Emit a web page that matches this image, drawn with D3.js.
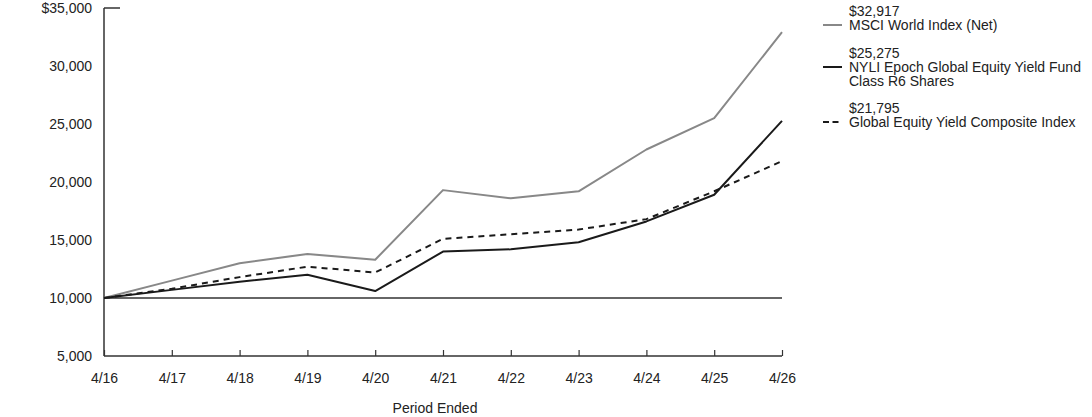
<!DOCTYPE html>
<html>
<head>
<meta charset="utf-8">
<script src="https://cdn.jsdelivr.net/npm/d3@7"></script>
<style>
  body { margin: 0; background: #fff; }
  svg text { font-family: "Liberation Sans", Arial, sans-serif; fill: #222; }
</style>
</head>
<body>
<svg width="1092" height="417"></svg>
<script>
// periods along the x axis
var periods = ["4/16", "4/17", "4/18", "4/19", "4/20", "4/21", "4/22", "4/23", "4/24", "4/25", "4/26"];
var yTicks = [5000, 10000, 15000, 20000, 25000, 30000, 35000];

// growth of $10,000
var msciWorld = [10000, 11500, 13000, 13800, 13300, 19300, 18600, 19200, 22800, 25500, 32917];
var fundR6    = [10000, 10700, 11400, 12000, 10600, 14000, 14200, 14800, 16600, 18900, 25275];
var composite = [10000, 10800, 11800, 12700, 12200, 15100, 15500, 15900, 16800, 19200, 21795];

var seriesNames = ["MSCI World Index (Net)", "NYLI Epoch Global Equity Yield Fund Class R6 Shares", "Global Equity Yield Composite Index"];
var endLabels = ["$32,917", "$25,275", "$21,795"];

var svg = d3.select("svg"),
    mLeft = 104, mRight = 782, mTop = 8, mBottom = 356;

var x = d3.scalePoint().domain(periods).range([mLeft, mRight]);
var y = d3.scaleLinear().domain([5000, 35000]).range([mBottom, mTop]);

var line = d3.line()
    .x(function(d, i) { return x(periods[i]); })
    .y(function(d) { return y(d); });

// y axis: labels only, plain vertical rule
var yAxis = svg.append("g")
    .attr("transform", "translate(" + mLeft + ",0)")
    .call(d3.axisLeft(y).tickValues(yTicks).tickSize(0).tickPadding(12)
        .tickFormat(function(d) { return d === 35000 ? "$35,000" : d3.format(",")(d); }));
yAxis.select(".domain").remove();
yAxis.selectAll("text").style("font-size", "14px").style("fill", "#222");

svg.append("line")
    .attr("x1", mLeft).attr("x2", mLeft)
    .attr("y1", y(35000)).attr("y2", y(5000))
    .attr("stroke", "#333").attr("stroke-width", 1.5);
svg.append("line")
    .attr("x1", mLeft).attr("x2", mLeft + 16)
    .attr("y1", y(35000)).attr("y2", y(35000))
    .attr("stroke", "#333").attr("stroke-width", 1.5);

// x axis with inward ticks
var xAxis = svg.append("g")
    .attr("transform", "translate(0," + mBottom + ")")
    .call(d3.axisBottom(x).tickSize(-6).tickPadding(17));
xAxis.select(".domain").attr("stroke", "#333").attr("stroke-width", 1.5)
    .attr("d", "M" + mLeft + ",0H" + mRight);
xAxis.selectAll(".tick line").attr("stroke", "#333").attr("stroke-width", 1.2);
xAxis.selectAll("text").style("font-size", "14px").style("fill", "#222");

svg.append("text")
    .attr("x", 435).attr("y", 413)
    .attr("text-anchor", "middle")
    .style("font-size", "14px")
    .text("Period Ended");

// $10,000 baseline
svg.append("line")
    .attr("x1", mLeft).attr("x2", mRight)
    .attr("y1", y(10000)).attr("y2", y(10000))
    .attr("stroke", "#333").attr("stroke-width", 1.5);

var series = [
    { values: msciWorld, color: "#888", dash: null },
    { values: fundR6,    color: "#1a1a1a", dash: null },
    { values: composite, color: "#1a1a1a", dash: "6,5" }
];

svg.selectAll("path.series")
    .data(series)
    .enter().append("path")
    .attr("class", "series")
    .attr("d", function(d) { return line(d.values); })
    .attr("fill", "none")
    .attr("stroke", function(d) { return d.color; })
    .attr("stroke-width", 2)
    .attr("stroke-dasharray", function(d) { return d.dash; })
    .attr("stroke-linejoin", "round");

// legend
var legendRows = [
    { lines: [seriesNames[0]], y0: 16, s: series[0], label: endLabels[0] },
    { lines: ["NYLI Epoch Global Equity Yield Fund", "Class R6 Shares"], y0: 58, s: series[1], label: endLabels[1] },
    { lines: [seriesNames[2]], y0: 113, s: series[2], label: endLabels[2] }
];

var legend = svg.append("g");
legendRows.forEach(function(r) {
    var g = legend.append("g").attr("transform", "translate(0," + r.y0 + ")");
    g.append("text").attr("x", 849).attr("y", 0).style("font-size", "14px").text(r.label);
    r.lines.forEach(function(t, i) {
        g.append("text").attr("x", 849).attr("y", 14 + i * 14).style("font-size", "14px").text(t);
    });
    g.append("line")
        .attr("x1", 823).attr("x2", 842)
        .attr("y1", 9).attr("y2", 9)
        .attr("stroke", r.s.color).attr("stroke-width", 2)
        .attr("stroke-dasharray", r.s.dash ? "6,3.5" : null);
});
</script>
</body>
</html>
